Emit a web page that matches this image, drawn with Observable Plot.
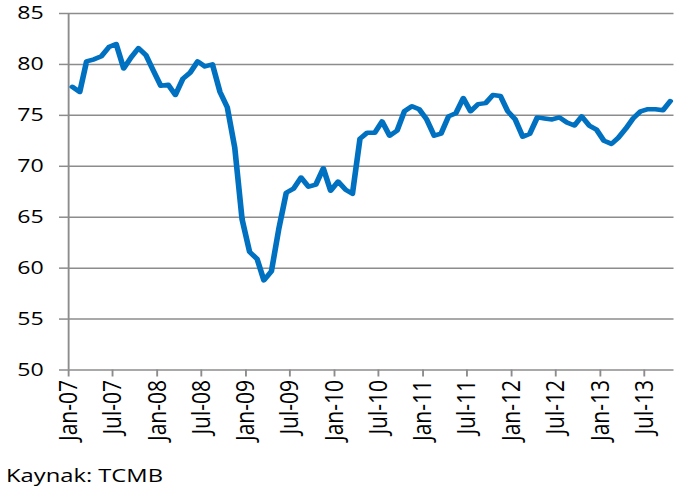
<!DOCTYPE html>
<html>
<head>
<meta charset="utf-8">
<script src="https://cdn.jsdelivr.net/npm/d3@7"></script>
<script src="https://cdn.jsdelivr.net/npm/@observablehq/plot@0.6"></script>
<style>
  body { margin: 0; background: #fff; }
  #chart { width: 683px; height: 452px; overflow: hidden; }
  #caption {
    font-family: "Open Sans", sans-serif;
    font-size: 19px;
    line-height: 26px;
    color: #000;
    margin-top: 10px;
    margin-left: 6px;
    white-space: nowrap;
    transform: scaleX(1.25);
    transform-origin: 0 0;
  }
</style>
</head>
<body>
<div id="chart"></div>
<div id="caption">Kaynak: TCMB</div>
<script>
// ---- data ----
const firstMonth = [2007, 0];           // Jan-07
const values = [
  77.8, 77.3, 80.3, 80.5, 80.8, 81.7, 82.0, 79.6, 80.7, 81.6, 80.9, 79.4,   // 2007
  77.9, 78.0, 77.0, 78.6, 79.2, 80.3, 79.8, 80.0, 77.3, 75.8, 71.8, 64.8,   // 2008
  61.6, 60.9, 58.8, 59.7, 63.8, 67.4, 67.8, 68.9, 68.0, 68.2, 69.8, 67.6,   // 2009
  68.5, 67.7, 67.3, 72.7, 73.3, 73.3, 74.4, 73.0, 73.5, 75.4, 75.9, 75.6,   // 2010
  74.6, 73.0, 73.2, 74.9, 75.2, 76.7, 75.4, 76.1, 76.2, 77.0, 76.9, 75.4,   // 2011
  74.6, 72.9, 73.2, 74.8, 74.7, 74.6, 74.8, 74.3, 74.0, 74.9, 74.0, 73.6,   // 2012
  72.5, 72.2, 72.8, 73.7, 74.7, 75.4, 75.6, 75.6, 75.5, 76.4                // 2013 (Jan-Oct)
];
const yTicks = [50, 55, 60, 65, 70, 75, 80, 85];
const tickLabels = ["Jan-07","Jul-07","Jan-08","Jul-08","Jan-09","Jul-09","Jan-10",
                    "Jul-10","Jan-11","Jul-11","Jan-12","Jul-12","Jan-13","Jul-13"];

// ---- build table ----
const start = new Date(Date.UTC(firstMonth[0], firstMonth[1], 1));
const months = d3.utcMonth.range(start, d3.utcMonth.offset(start, values.length));
const end = d3.utcMonth.offset(start, values.length);
const data = values.map((v, i) => ({ date: d3.utcDay.offset(months[i], 15), value: v }));
const tickDates = tickLabels.map((_, i) => d3.utcMonth.offset(start, i * 6));
const labelOf = new Map(tickDates.map((d, i) => [+d, tickLabels[i]]));

// drawn in a narrower frame, then stretched horizontally like the reference
const SX = 1.25;
const W = 683 / SX, H = 452;
const grid = "#8c8c8c";

const chart = Plot.plot({
  width: W,
  height: H,
  marginTop: 13,
  marginBottom: 82.5,
  marginLeft: 68 / SX,
  marginRight: (683 - 673.5) / SX,
  style: { fontFamily: "Open Sans, sans-serif", fontSize: "18.5px", color: "#000", background: "#fff" },
  x: { type: "utc", domain: [start, end], label: null },
  y: { domain: [50, 85], label: null },
  marks: [
    Plot.ruleY(yTicks, { x1: start, x2: end, stroke: grid, strokeWidth: 1.5 }),
    Plot.axisY({ ticks: yTicks, label: null, tickSize: 9 / SX, tickPadding: 16 / SX, stroke: grid, strokeWidth: 1.5, strokeOpacity: 1, fill: "#000", fontSize: 18.5 }),
    Plot.ruleX([start], { y1: 50, y2: 85, stroke: grid, strokeWidth: 1.5 }),
    Plot.axisX({ ticks: tickDates, label: null, tickFormat: d => labelOf.get(+d), tickSize: 7, tickPadding: 3, tickRotate: -90,
                 stroke: grid, strokeWidth: 1.5, strokeOpacity: 1, fill: "#000", fontSize: 21 }),
    Plot.lineY(data, { x: "date", y: "value", stroke: "#0070C0", strokeWidth: 4.5,
                       strokeLinejoin: "round", strokeLinecap: "round" })
  ]
});

chart.setAttribute("viewBox", `0 0 ${W} ${H}`);
chart.setAttribute("width", 683);
chart.setAttribute("height", H);
chart.setAttribute("preserveAspectRatio", "none");
chart.style.maxWidth = "none";
chart.style.width = "683px";
chart.style.height = H + "px";
document.getElementById("chart").appendChild(chart);
</script>
</body>
</html>
